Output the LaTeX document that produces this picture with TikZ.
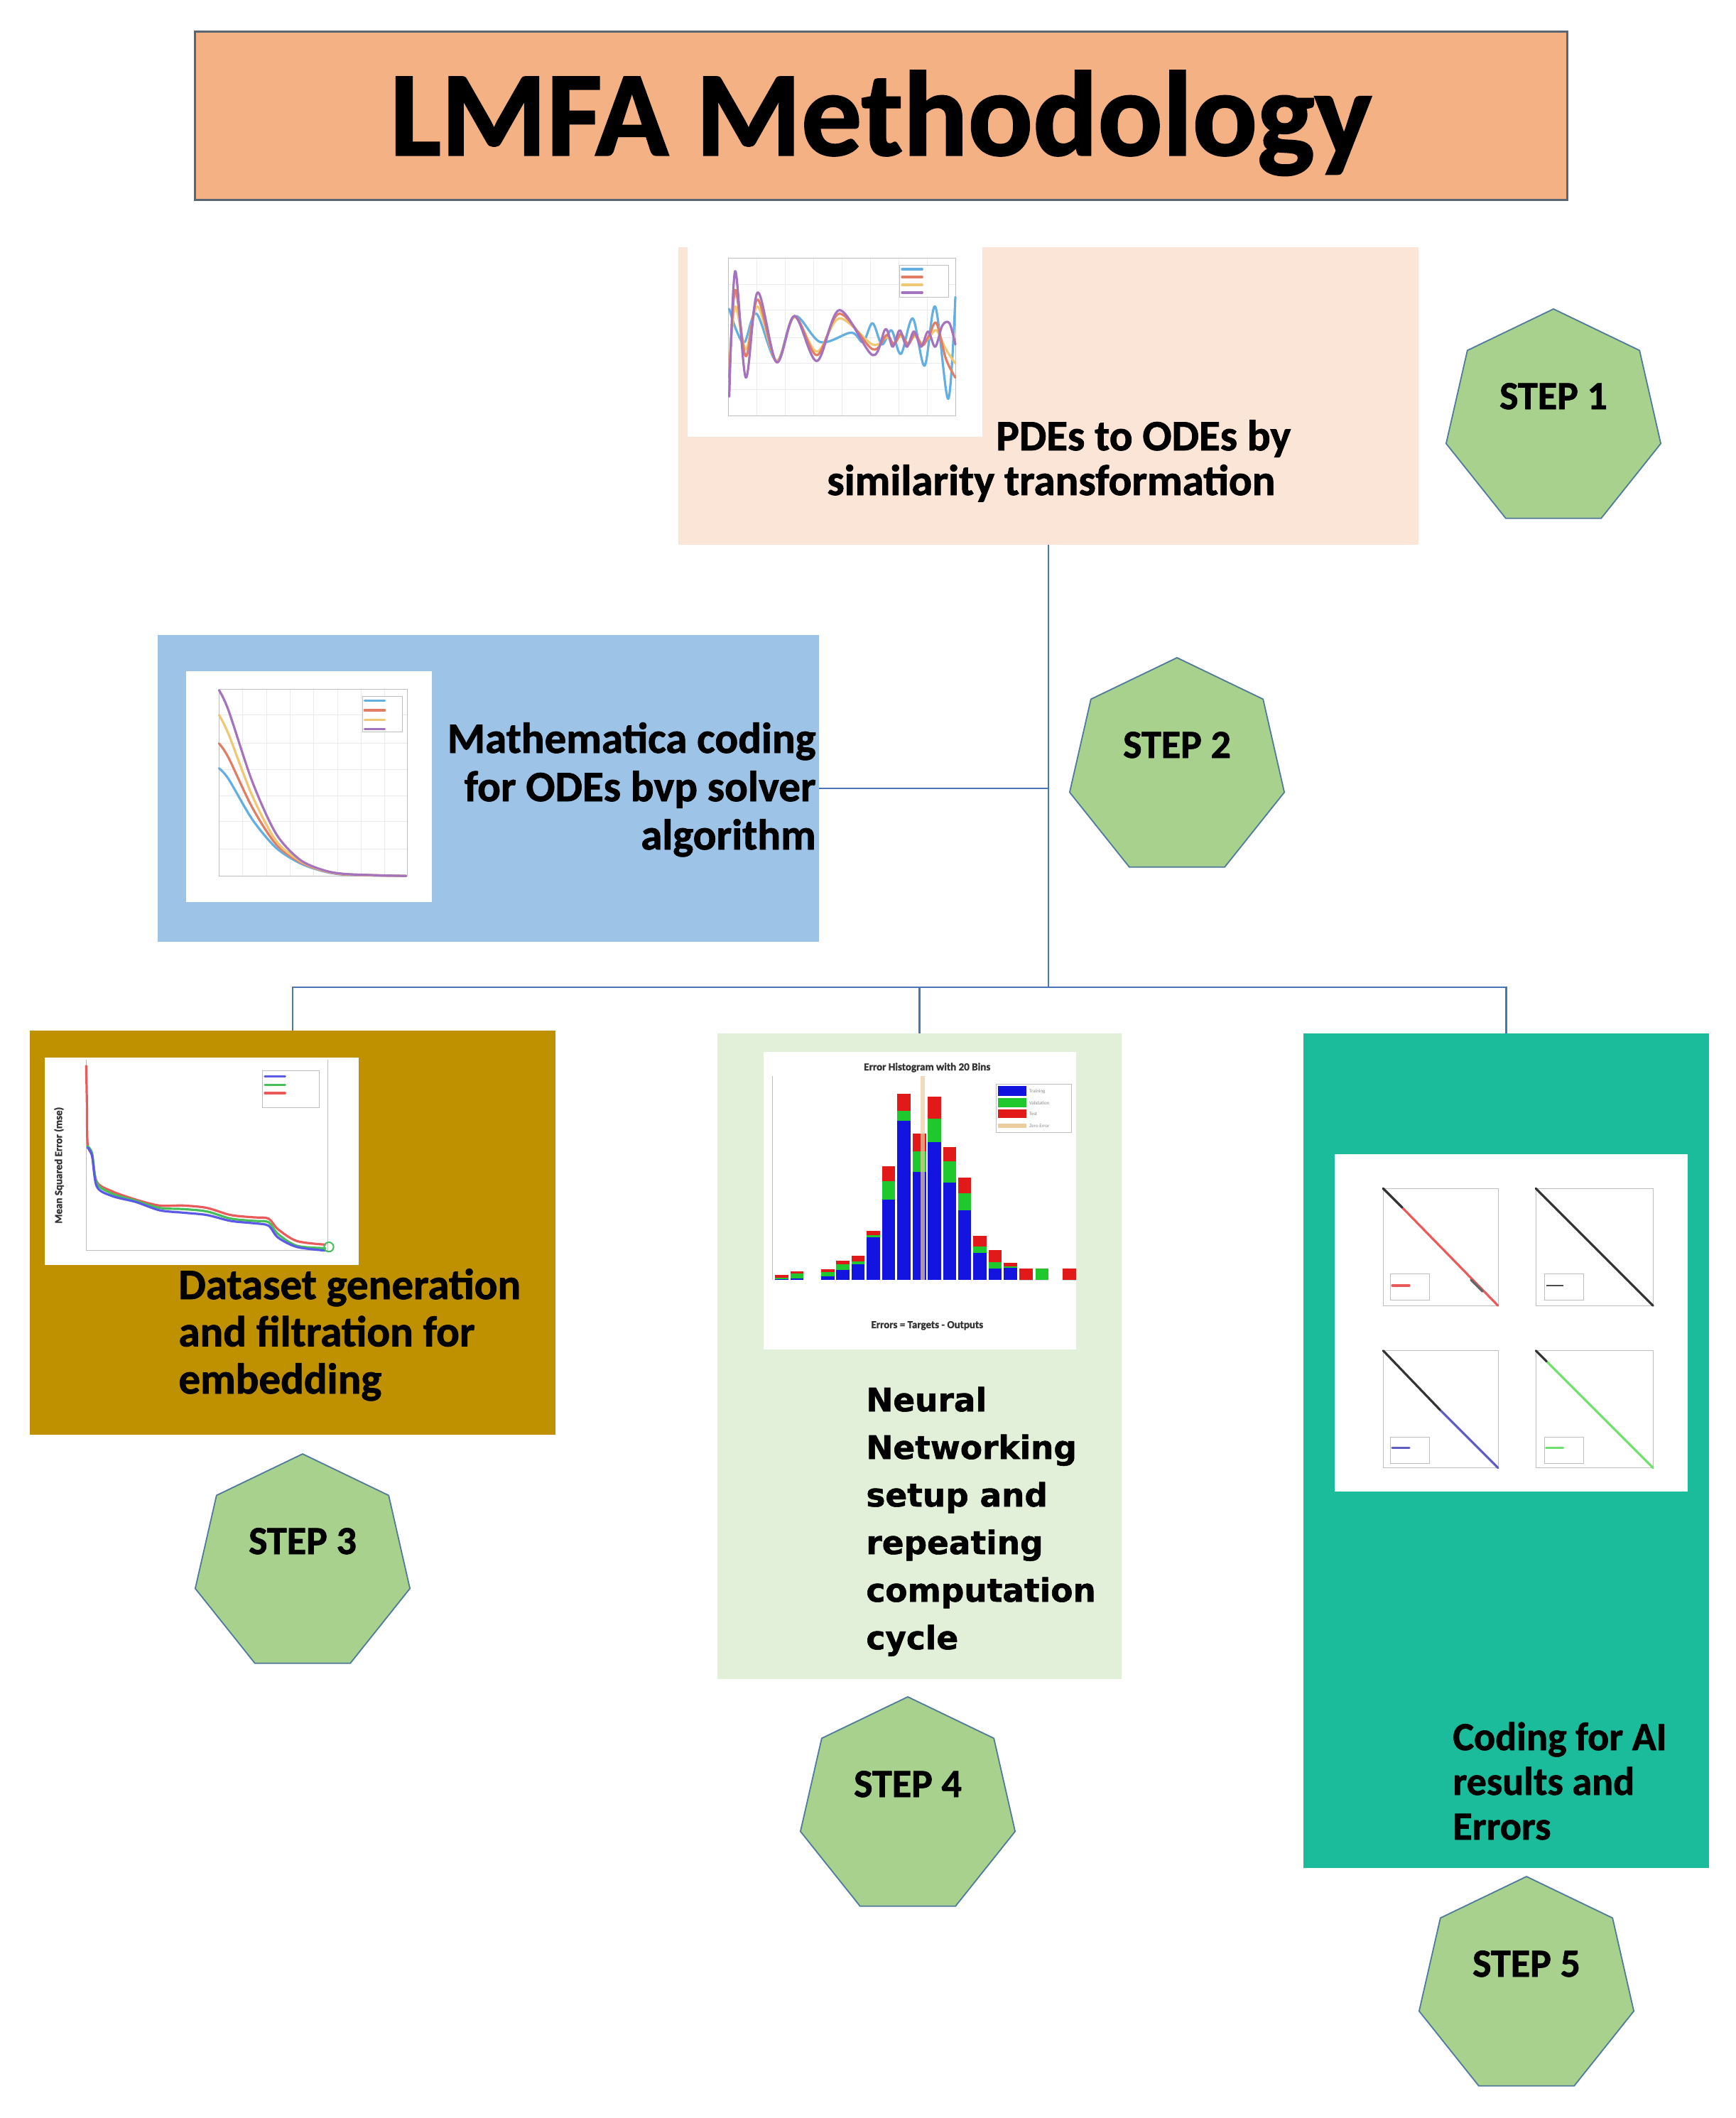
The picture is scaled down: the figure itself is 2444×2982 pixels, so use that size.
\documentclass[tikz,border=0pt]{standalone}
\usepackage{fontspec}
\setmainfont{Carlito}[BoldFeatures={FakeBold=1.3}]
\newfontfamily\dejavu{DejaVu Sans}[BoldFeatures={FakeBold=1.2}]
\usetikzlibrary{shapes.geometric}
\definecolor{titlefill}{HTML}{F4B183}
\definecolor{titleline}{HTML}{5A6673}
\definecolor{peach}{HTML}{FBE5D6}
\definecolor{skyblue}{HTML}{9DC3E6}
\definecolor{goldbox}{HTML}{BF9000}
\definecolor{palegreen}{HTML}{E2F0D9}
\definecolor{tealbox}{RGB}{26,188,156}
\definecolor{heptfill}{HTML}{A9D18E}
\definecolor{heptline}{HTML}{4F7A9A}
\definecolor{linkc}{HTML}{4A76B8}
\definecolor{cblue}{RGB}{100,175,225}
\definecolor{corange}{RGB}{225,125,100}
\definecolor{cyellow}{RGB}{240,200,115}
\definecolor{cpurple}{RGB}{165,115,190}
\definecolor{hblue}{RGB}{20,20,225}
\definecolor{hgreen}{RGB}{30,200,45}
\definecolor{hred}{RGB}{225,25,25}
\definecolor{htan}{RGB}{235,205,160}
\definecolor{mblue}{RGB}{90,90,230}
\definecolor{mgreen}{RGB}{70,190,90}
\definecolor{mred}{RGB}{235,90,90}
\definecolor{rblue}{RGB}{95,95,195}
\definecolor{rgreen}{RGB}{110,225,110}
\begin{document}
\begin{tikzpicture}[x=0.5pt,y=-0.5pt,
  boxst/.style={rectangle,draw=none,inner sep=0pt},
  imgst/.style={rectangle,fill=white,draw=none,inner sep=0pt},
  hept/.style={regular polygon,regular polygon sides=7,minimum size=155pt,inner sep=0pt,fill=heptfill,draw=heptline,line width=0.9pt,font=\fontsize{28}{30}\selectfont\bfseries},
  lbl/.style={inner sep=0pt,font=\fontsize{30.5}{34}\selectfont\bfseries},
  linkst/.style={draw=linkc,line width=1.3pt},
  gridln/.style={draw=black!8,line width=0.3pt},
  axln/.style={draw=black!25,line width=0.4pt},
  crv/.style={line width=1.6pt,line join=round,line cap=round},
  tiny/.style={inner sep=0pt,text=black!45,font=\fontsize{3.5}{4}\selectfont}
]
\useasboundingbox (0,0) rectangle (2444,2982);
\fill[white] (0,0) rectangle (2444,2982);

% ---------- title ----------
\node[boxst,fill=titlefill,draw=titleline,line width=1.5pt,minimum width=966pt,minimum height=118.5pt,
      font=\fontsize{85}{90}\selectfont\bfseries,text height=73pt,text depth=17pt] (title) at (1240,162.5) {LMFA Methodology};

% ---------- boxes ----------
\node[boxst,fill=peach,minimum width=521pt,minimum height=209.5pt] (b1) at (1476,557.5) {};
\node[boxst,fill=skyblue,minimum width=465.5pt,minimum height=216pt] (b2) at (687.5,1110) {};
\node[boxst,fill=goldbox,minimum width=370pt,minimum height=284.5pt] (b3) at (412,1735.5) {};
\node[boxst,fill=palegreen,minimum width=284.5pt,minimum height=454.5pt] (b4) at (1294.5,1909.5) {};
\node[boxst,fill=tealbox,minimum width=285.5pt,minimum height=587.5pt] (b5) at (2120.5,2042.5) {};

% ---------- picture areas ----------
\node[imgst,minimum width=207.5pt,minimum height=133.5pt] (p1) at (1175.5,481.5) {};
\node[imgst,minimum width=173pt,minimum height=162.5pt] (p2) at (435,1107.5) {};
\node[imgst,minimum width=221pt,minimum height=146pt] (p3) at (284,1635) {};
\node[imgst,minimum width=220pt,minimum height=209.5pt] (p4) at (1295,1690.5) {};
\node[imgst,minimum width=248.5pt,minimum height=237.5pt] (p5) at (2127.5,1862.5) {};

% plot 1 : oscillations
\begin{scope}[shift={(965,345)},scale=0.3333]
  \foreach \gx in {300,420,...,1020} \draw[gridln] (\gx,55) -- (\gx,720);
  \foreach \gy in {165,275,390,500,610} \draw[gridln] (180,\gy) -- (1140,\gy);
  \draw[axln] (180,55) rectangle (1140,720);
  \draw[crv,cblue] plot[smooth,tension=0.55] coordinates {(185,270) (215,360) (250,410) (300,290) (385,490) (460,300) (570,410) (700,370) (750,410) (790,330) (830,420) (870,360) (910,460) (960,310) (1010,510) (1055,260) (1110,650) (1140,220)};
  \draw[crv,cyellow] plot[smooth,tension=0.55] coordinates {(185,520) (210,260) (255,440) (305,260) (385,490) (460,305) (555,450) (650,310) (790,420) (850,390) (880,415) (910,385) (940,415) (970,385) (1000,415) (1030,390) (1060,360) (1100,440) (1140,500)};
  \draw[crv,corange] plot[smooth,tension=0.55] coordinates {(185,560) (210,190) (255,470) (305,230) (385,495) (460,300) (555,465) (650,290) (790,440) (850,380) (880,420) (910,375) (940,420) (970,375) (1000,425) (1030,380) (1060,330) (1100,480) (1140,560)};
  \draw[crv,cpurple] plot[smooth,tension=0.55] coordinates {(185,640) (210,110) (255,560) (305,200) (385,495) (460,300) (555,490) (650,275) (790,465) (845,355) (875,430) (905,360) (935,430) (965,365) (995,430) (1025,365) (1055,430) (1085,340) (1115,330) (1140,420)};
  \draw[axln,fill=white] (905,85) rectangle (1110,220);
  \draw[crv,cblue] (915,102) -- (1000,102);
  \draw[crv,corange] (915,135) -- (1000,135);
  \draw[crv,cyellow] (915,168) -- (1000,168);
  \draw[crv,cpurple] (915,201) -- (1000,201);
\end{scope}

% plot 2 : decaying profiles
\begin{scope}[shift={(255,940)},scale=0.3333]
  \foreach \gx in {260,360,...,860} \draw[gridln] (\gx,90) -- (\gx,880);
  \foreach \gy in {200,320,430,540,650,765} \draw[gridln] (160,\gy) -- (955,\gy);
  \draw[axln] (160,90) rectangle (955,880);
  \draw[crv,cblue] plot[smooth] coordinates {(160,425) (200,470) (300,640) (400,760) (500,825) (600,860) (700,875) (950,880)};
  \draw[crv,corange] plot[smooth] coordinates {(160,320) (200,380) (300,590) (400,745) (500,820) (600,858) (700,874) (950,880)};
  \draw[crv,cyellow] plot[smooth] coordinates {(160,200) (200,280) (300,540) (400,730) (500,815) (600,857) (700,873) (950,880)};
  \draw[crv,cpurple] plot[smooth] coordinates {(160,95) (200,180) (300,480) (400,700) (500,810) (600,855) (700,872) (950,880)};
  \draw[axln,fill=white] (765,120) rectangle (935,270);
  \draw[crv,cblue] (775,140) -- (860,140);
  \draw[crv,corange] (775,180) -- (860,180);
  \draw[crv,cyellow] (775,220) -- (860,220);
  \draw[crv,cpurple] (775,260) -- (860,260);
\end{scope}

% plot 3 : performance curves
\begin{scope}[shift={(58,1484)},scale=0.3333]
  \draw[axln] (190,25) -- (190,830) -- (1210,830) -- (1210,25);
  \draw[crv,mred] plot[smooth] coordinates {(190,50) (193,200) (196,380) (215,430) (235,540) (300,580) (400,615) (500,640) (600,640) (700,650) (800,680) (900,690) (960,695) (1000,740) (1080,790) (1200,805)};
  \draw[crv,mgreen] plot[smooth] coordinates {(196,390) (215,420) (235,545) (300,590) (400,620) (500,650) (600,655) (700,665) (800,695) (900,705) (960,710) (1000,760) (1080,810) (1200,820)};
  \draw[crv,mblue] plot[smooth] coordinates {(196,395) (215,430) (235,560) (300,600) (400,625) (500,660) (600,670) (700,680) (800,705) (900,715) (960,725) (1000,775) (1080,815) (1200,830)};
  \draw[mgreen,line width=1pt] (1215,815) circle (20);
  \draw[axln,fill=white] (935,70) rectangle (1175,225);
  \draw[crv,mblue] (945,95) -- (1030,95);
  \draw[crv,mgreen] (945,130) -- (1030,130);
  \draw[crv,mred] (945,165) -- (1030,165);
  \node[rotate=90,inner sep=0pt,text=black!80,font=\fontsize{7.5}{8}\selectfont\bfseries] (p3y) at (75,470) {Mean Squared Error (mse)};
\end{scope}

% plot 4 : error histogram
\begin{scope}[shift={(1072,1478)},scale=0.3333]
  \draw[axln] (45,110) -- (45,972);
  \foreach \c/\b/\g/\r in {85/968/964/952,150/966/944/936,280/958/940/926,343/930/905/890,408/905/895/870,472/792/782/765,537/632/555/492,602/300/258/185,667/515/430/355,730/390/290/197,795/560/472/412,858/678/605/540,922/858/832/785,987/925/897/845,1052/920/915/900,1117/972/972/925,1185/972/925/925,1300/972/972/925}{
    \fill[hblue] (\c-28,972) rectangle (\c+28,\b);
    \fill[hgreen] (\c-28,\b) rectangle (\c+28,\g);
    \fill[hred] (\c-28,\g) rectangle (\c+28,\r);
  }
  \draw[htan,line width=3pt,opacity=0.7] (680,110) -- (680,972);
  \draw[axln,fill=white] (990,145) rectangle (1310,350);
  \fill[hblue] (1000,152) rectangle (1120,195);
  \fill[hgreen] (1000,205) rectangle (1120,242);
  \fill[hred] (1000,252) rectangle (1120,287);
  \draw[htan,line width=3pt] (1000,322) -- (1120,322);
  \node[tiny,anchor=west] (l1) at (1130,175) {Training};
  \node[tiny,anchor=west] (l2) at (1130,225) {Validation};
  \node[tiny,anchor=west] (l3) at (1130,270) {Test};
  \node[tiny,anchor=west] (l4) at (1130,322) {Zero Error};
  \node[inner sep=0pt,text=black!80,font=\fontsize{7.5}{8}\selectfont\bfseries] (p4t) at (700,75) {Error Histogram with 20 Bins};
  \node[inner sep=0pt,text=black!80,font=\fontsize{7.5}{8}\selectfont\bfseries] (p4x) at (700,1165) {Errors = Targets - Outputs};
\end{scope}

% plot 5 : regression panels
\begin{scope}[shift={(1874,1620)},scale=0.3333]
  \draw[axln] (220,160) rectangle (705,655);
  \draw[axln] (865,160) rectangle (1360,655);
  \draw[axln] (220,845) rectangle (705,1340);
  \draw[axln] (865,845) rectangle (1360,1340);
  \draw[crv,mred] (300,240) -- (705,655);
  \draw[crv,black!80] (220,160) -- (300,240);
  \draw[crv,black!60] (590,545) -- (640,595);
  \draw[crv,black!80] (865,160) -- (1360,655);
  \draw[crv,rblue] (460,1095) -- (705,1340);
  \draw[crv,black!80] (220,845) -- (460,1095);
  \draw[crv,rgreen] (910,890) -- (1360,1340);
  \draw[crv,black!80] (865,845) -- (910,890);
  \draw[axln,fill=white] (250,520) rectangle (415,630);
  \draw[crv,mred] (258,570) -- (330,570);
  \draw[axln,fill=white] (900,520) rectangle (1065,630);
  \draw[line width=0.6pt,black!70] (908,570) -- (980,570);
  \draw[axln,fill=white] (250,1210) rectangle (415,1320);
  \draw[crv,rblue] (258,1255) -- (330,1255);
  \draw[axln,fill=white] (900,1210) rectangle (1065,1320);
  \draw[crv,rgreen] (908,1255) -- (980,1255);
\end{scope}

% ---------- texts ----------
\node[lbl,anchor=base west,font=\fontsize{30.5}{31.5}\selectfont\bfseries] (t1) at (1164,634)
  {\begin{tabular}[t]{@{}l@{}}\hspace*{119pt}PDEs to ODEs by\\similarity transformation\end{tabular}};
\node[lbl,anchor=base east] (t2) at (1149,1060)
  {\begin{tabular}[t]{@{}r@{}}Mathematica coding\\for ODEs bvp solver\\algorithm\end{tabular}};
\node[lbl,anchor=base west,font=\fontsize{30.5}{33.25}\selectfont\bfseries] (t3) at (251,1829)
  {\begin{tabular}[t]{@{}l@{}}Dataset generation\\and filtration for\\embedding\end{tabular}};
\node[lbl,anchor=base west,font=\dejavu\fontsize{22.7}{33.5}\selectfont\bfseries] (t4) at (1219,1987)
  {\begin{tabular}[t]{@{}l@{}}Neural\\Networking\\setup and\\repeating\\computation\\cycle\end{tabular}};
\node[lbl,anchor=base west,font=\fontsize{28}{31.5}\selectfont\bfseries] (t5) at (2045,2464)
  {\begin{tabular}[t]{@{}l@{}}Coding for AI\\results and\\Errors\end{tabular}};

% ---------- step badges ----------
\node[hept] (s1) at (2187,590) {\raisebox{7pt}[0pt][0pt]{STEP 1}};
\node[hept] (s2) at (1657,1081) {\raisebox{7pt}[0pt][0pt]{STEP 2}};
\node[hept] (s3) at (426,2202) {\raisebox{7pt}[0pt][0pt]{STEP 3}};
\node[hept] (s4) at (1278,2544) {\raisebox{7pt}[0pt][0pt]{STEP 4}};
\node[hept] (s5) at (2149,2797) {\raisebox{7pt}[0pt][0pt]{STEP 5}};

% ---------- connectors ----------
\coordinate (bus) at (1476,1390);
\draw[linkst] (b1.south) -- (bus);
\draw[linkst] (b2.east) -- (b2.east -| b1.south);
\draw[linkst] (b3.north) |- (bus) -| (b5.north);
\draw[linkst] (b4.north) -- (b4.north |- bus);
\end{tikzpicture}
\end{document}
